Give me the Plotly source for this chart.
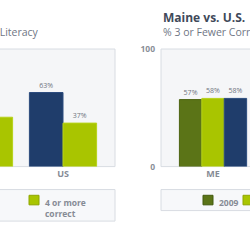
import plotly.graph_objects as go

W = 250
H = 250

# ---- data ----
left_categories = ["ME", "US"]
left_fewer = [58, 63]      # "3 or fewer correct" (navy)
left_more = [42, 37]       # "4 or more correct" (lime)

right_categories = ["ME"]
right_2009 = [57]
right_2012 = [58]
right_2015 = [58]

NAVY = "#1f3d6b"
LIME = "#a9c500"
OLIVE = "#5b7417"
TXT = "#868b95"
FONT = "Open Sans"


def px(x):
    return x / W


def py(y):
    return 1 - y / H


fig = go.Figure()

lbl_font = dict(size=7, color="#6f7580", family=FONT)

fig.add_trace(go.Bar(x=left_categories, y=left_fewer, name="3 or fewer correct",
                     marker=dict(color=NAVY, line=dict(color="#2c4c7e", width=1)),
                     texttemplate="%{y}%", textposition="outside", textfont=lbl_font,
                     cliponaxis=False, xaxis="x", yaxis="y"))
fig.add_trace(go.Bar(x=left_categories, y=left_more, name="4 or more correct",
                     marker=dict(color=LIME, line=dict(color="#b7d21a", width=1)),
                     texttemplate="%{y}%", textposition="outside", textfont=lbl_font,
                     cliponaxis=False, xaxis="x", yaxis="y"))

fig.add_trace(go.Bar(x=right_categories, y=right_2009, name="2009",
                     marker=dict(color=OLIVE, line=dict(color="#4e6512", width=1)),
                     texttemplate="%{y}%", textposition="outside", textfont=lbl_font,
                     cliponaxis=False, xaxis="x2", yaxis="y2"))
fig.add_trace(go.Bar(x=right_categories, y=right_2012, name="2012",
                     marker=dict(color=LIME, line=dict(color="#b7d21a", width=1)),
                     texttemplate="%{y}%", textposition="outside", textfont=lbl_font,
                     cliponaxis=False, xaxis="x2", yaxis="y2"))
fig.add_trace(go.Bar(x=right_categories, y=right_2015, name="2015",
                     marker=dict(color=NAVY, line=dict(color="#2c4c7e", width=1)),
                     texttemplate="%{y}%", textposition="outside", textfont=lbl_font,
                     cliponaxis=False, xaxis="x2", yaxis="y2"))

ydom = [py(168), py(45)]
tickfont = dict(size=9, color=TXT, family=FONT, weight="bold")

fig.update_layout(
    width=W, height=H,
    margin=dict(l=0, r=0, t=0, b=0),
    paper_bgcolor="white",
    plot_bgcolor="rgba(0,0,0,0)",
    showlegend=False,
    barmode="group",
    bargap=0.2,
    bargroupgap=0,
    font=dict(family=FONT),
    xaxis=dict(domain=[0, px(115)], range=[0.25, 1.619], type="category",
               showgrid=False, zeroline=False, showline=False, ticks="",
               tickfont=tickfont, fixedrange=True),
    yaxis=dict(domain=ydom, range=[0, 100], showgrid=False, zeroline=False,
               showticklabels=False, showline=False),
    xaxis2=dict(domain=[px(161), 1], range=[-0.619, 0.44], type="category",
                anchor="y2", showgrid=False, zeroline=False, showline=False,
                ticks="", tickfont=tickfont),
    yaxis2=dict(domain=ydom, range=[0, 100], anchor="x2", showgrid=False,
                zeroline=False, showline=False, tickvals=[0, 100],
                ticks="", ticklabelstandoff=5,
                tickfont=dict(size=8.5, color="#8a8f98", family=FONT, weight="bold")),
)

shapes = []
# plot panels
shapes.append(dict(type="rect", xref="paper", yref="paper", layer="below",
                   x0=px(-60), x1=px(115), y0=py(168), y1=py(45),
                   fillcolor="#f5f6f8", line=dict(color="#d8dce2", width=1)))
shapes.append(dict(type="rect", xref="paper", yref="paper", layer="below",
                   x0=px(161), x1=px(320), y0=py(168), y1=py(45),
                   fillcolor="#f5f6f8", line=dict(color="#d8dce2", width=1)))
# legend boxes
shapes.append(dict(type="rect", xref="paper", yref="paper", layer="below",
                   x0=px(-60), x1=px(115), y0=py(225), y1=py(192),
                   fillcolor="#f7f8fa", line=dict(color="#d8dce2", width=1)))
shapes.append(dict(type="rect", xref="paper", yref="paper", layer="below",
                   x0=px(161), x1=px(320), y0=py(214), y1=py(192),
                   fillcolor="#f7f8fa", line=dict(color="#d8dce2", width=1)))

annotations = []


def legend_item(x, y, color, border, text):
    shapes.append(dict(type="rect", xref="paper", yref="paper",
                       x0=px(x), x1=px(x + 10), y0=py(y + 10), y1=py(y),
                       fillcolor=color, line=dict(color=border, width=1)))
    annotations.append(dict(xref="paper", yref="paper", x=px(x + 14), y=py(y),
                            xanchor="left", yanchor="top", showarrow=False,
                            align="left", text=text,
                            font=dict(size=8.5, color=TXT, family=FONT, weight="bold")))


legend_item(-85, 198, NAVY, "#2c4c7e", "3 or fewer<br>correct")
legend_item(29, 198, LIME, "#8fa600", "4 or more<br>correct")
legend_item(203, 198, OLIVE, "#435a0e", "2009")
legend_item(243, 198, LIME, "#8fa600", "2012")

# titles
annotations.append(dict(xref="paper", yref="paper", x=px(162), y=py(12),
                        xanchor="left", yanchor="middle", showarrow=False,
                        borderpad=0,
                        text="<b>Maine vs. U.S.</b>",
                        font=dict(size=12, color="#3f4a5a", family=FONT)))
annotations.append(dict(xref="paper", yref="paper", x=px(162), y=py(27),
                        xanchor="left", yanchor="middle", showarrow=False,
                        borderpad=0,
                        text="% 3 or Fewer Correct",
                        font=dict(size=10.5, color="#6f7684", family=FONT)))
annotations.append(dict(xref="paper", yref="paper", x=px(40), y=py(27),
                        xanchor="right", yanchor="middle", showarrow=False,
                        borderpad=0,
                        text="Financial Literacy",
                        font=dict(size=10.5, color="#6f7684", family=FONT)))

fig.update_layout(shapes=shapes, annotations=annotations)

fig.write_html("out.html")
